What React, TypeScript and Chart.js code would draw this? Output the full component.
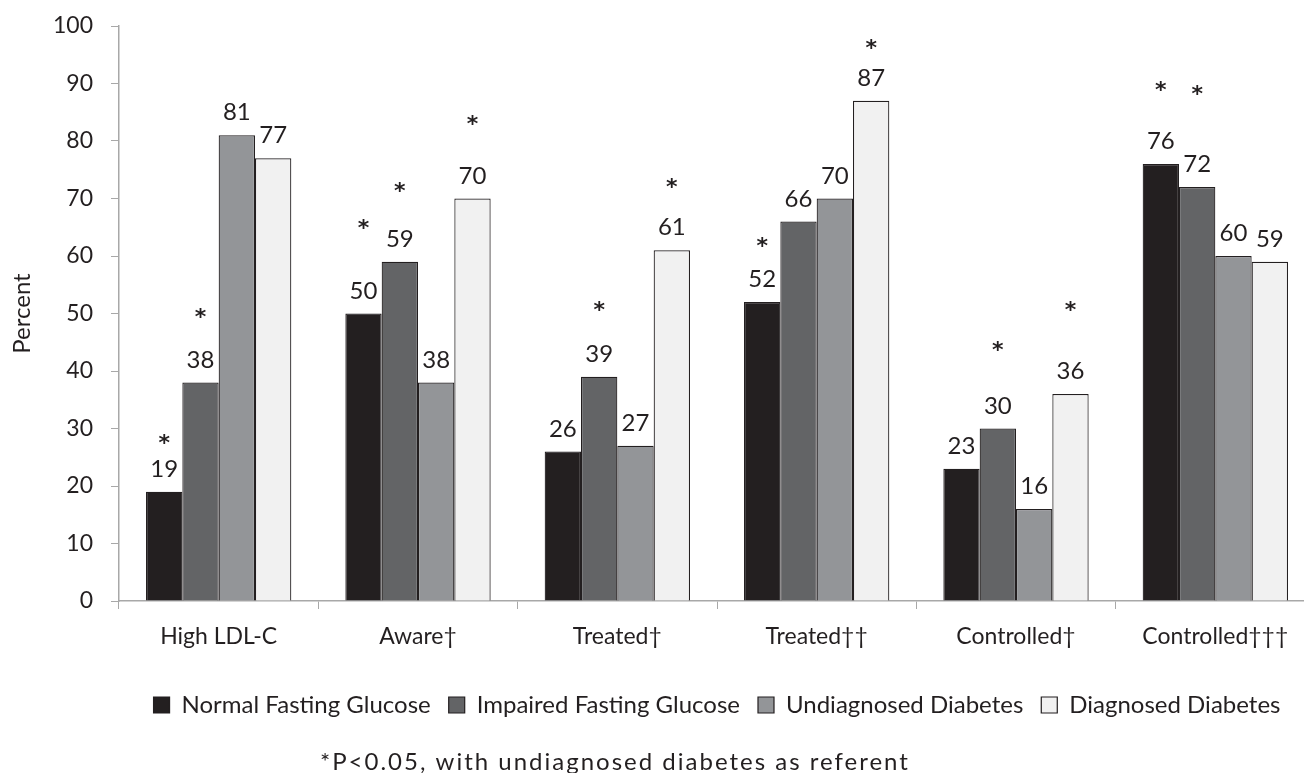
import React, { useEffect, useRef } from 'react';
import { Chart, registerables } from 'chart.js';

Chart.register(...registerables);

const categories = ['High LDL-C', 'Aware†', 'Treated†', 'Treated††', 'Controlled†', 'Controlled†††'];
const seriesNames = ['Normal Fasting Glucose', 'Impaired Fasting Glucose', 'Undiagnosed Diabetes', 'Diagnosed Diabetes'];
const normalFasting = [19, 50, 26, 52, 23, 76];
const impairedFasting = [38, 59, 39, 66, 30, 72];
const undiagnosedDiabetes = [81, 38, 27, 70, 16, 60];
const diagnosedDiabetes = [77, 70, 61, 87, 36, 59];
// Level (on the percent scale) of each "*" significance marker; null = no marker
const sigNormal = [28.3, 65.7, null, 62.6, null, 89.7];
const sigImpaired = [50.3, 72.2, 51.5, null, 44.5, 89.0];
const sigUndiagnosed = [null, null, null, null, null, null];
const sigDiagnosed = [null, 83.8, 72.9, 97.0, 51.5, null];
const yMin = 0;
const yMax = 100;
const yStep = 10;
const yTitle = 'Percent';
const footnote = '*P<0.05, with undiagnosed diabetes as referent';

const FONT = 'Lato, "DejaVu Sans", sans-serif';
const TEXT = '#231f20';
const AXIS = '#a8a8a8';
const fills = ['#231f20', '#636466', '#939598', '#f1f1f1'];

export default function App() {
  const ref = useRef<HTMLCanvasElement | null>(null);

  useEffect(() => {
    if (!ref.current) return;
    const values = [normalFasting, impairedFasting, undiagnosedDiabetes, diagnosedDiabetes];
    const sigs = [sigNormal, sigImpaired, sigUndiagnosed, sigDiagnosed];

    const labelPlugin = {
      id: 'labels',
      afterDatasetsDraw(chart: any) {
        const ctx = chart.ctx;
        const y = chart.scales.y;
        ctx.save();
        ctx.fillStyle = TEXT;
        ctx.textAlign = 'center';
        ctx.textBaseline = 'alphabetic';
        chart.data.datasets.forEach((ds: any, di: number) => {
          const meta = chart.getDatasetMeta(di);
          meta.data.forEach((bar: any, i: number) => {
            ctx.font = `24px ${FONT}`;
            ctx.fillText(String(ds.data[i]), bar.x, bar.y - 15);
            const s = sigs[di][i];
            if (s !== null && s !== undefined) {
              ctx.font = `bold 22px "DejaVu Sans", sans-serif`;
              ctx.fillText('*', bar.x, y.getPixelForValue(s) + 12);
            }
          });
        });
        ctx.restore();
      },
      afterDraw(chart: any) {
        const ctx = chart.ctx;
        ctx.save();
        ctx.fillStyle = TEXT;
        ctx.font = `24px ${FONT}`;
        try { (ctx as any).letterSpacing = '2px'; } catch (e) {}
        ctx.textAlign = 'left';
        ctx.textBaseline = 'middle';
        ctx.fillText(footnote, 320, 762);
        ctx.restore();
      },
    };

    const chart = new Chart(ref.current, {
      type: 'bar',
      data: {
        labels: categories,
        datasets: seriesNames.map((name, k) => ({
          label: name,
          data: values[k],
          backgroundColor: fills[k],
          borderColor: '#231f20',
          borderWidth: 1.2,
          categoryPercentage: 0.729,
          barPercentage: 1,
        })),
      },
      options: {
        animation: false,
        responsive: true,
        maintainAspectRatio: false,
        layout: { padding: { top: 26, right: 3, bottom: 46, left: 0 } },
        plugins: {
          legend: {
            position: 'bottom',
            fullSize: false,
            labels: {
              boxWidth: 16,
              boxHeight: 16,
              padding: 18,
              color: TEXT,
              font: { family: FONT, size: 24 },
            },
          },
          tooltip: { enabled: false },
        },
        scales: {
          x: {
            grid: { display: true, drawOnChartArea: false, drawTicks: true, tickLength: 8, color: AXIS, offset: true },
            border: { color: AXIS, width: 1.5 },
            ticks: { color: TEXT, font: { family: FONT, size: 23 }, padding: 14, maxRotation: 0 },
            afterFit: (s: any) => { s.height = 74; },
          },
          y: {
            min: yMin,
            max: yMax,
            grid: { display: true, drawOnChartArea: false, drawTicks: true, tickLength: 8, color: AXIS },
            border: { color: AXIS, width: 1.5 },
            ticks: { stepSize: yStep, color: TEXT, font: { family: FONT, size: 23 }, padding: 18 },
            title: { display: true, text: yTitle, color: TEXT, font: { family: FONT, size: 24 }, padding: { top: 8, bottom: 0 } },
            afterFit: (s: any) => { s.width = 119; s.paddingTop = 0; s.paddingBottom = 0; },
          },
        },
      },
      plugins: [labelPlugin],
    } as any);
    return () => chart.destroy();
  }, []);

  return (
    <div style={{ position: 'absolute', left: 0, top: 0, width: 1304, height: 773, overflow: 'hidden', background: '#fff' }}>
      <div style={{ position: 'relative', width: 1318, height: 773 }}>
        <canvas ref={ref} />
      </div>
    </div>
  );
}
